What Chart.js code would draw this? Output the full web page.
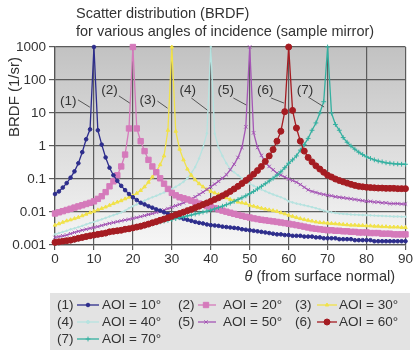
<!DOCTYPE html>
<html>
<head>
<meta charset="utf-8">
<script src="https://cdn.jsdelivr.net/npm/chart.js@4/dist/chart.umd.min.js"></script>
<style>
html,body{margin:0;padding:0;background:#fff;}
#wrap{width:414px;height:350px;position:relative;}
</style>
</head>
<body>
<div id="wrap"><canvas id="c" width="414" height="350"></canvas></div>
<script>
// ---------- data ----------
const theta = [0,1,2,3,4,5,6,7,8,9,10,11,12,13,14,15,16,17,18,19,20,21,22,23,24,25,26,27,28,29,30,31,32,33,34,35,36,37,38,39,40,41,42,43,44,45,46,47,48,49,50,51,52,53,54,55,56,57,58,59,60,61,62,63,64,65,66,67,68,69,70,71,72,73,74,75,76,77,78,79,80,81,82,83,84,85,86,87,88,89,90];

const aoi10 = [0.035,0.042,0.055,0.075,0.11,0.17,0.3,0.65,1.6,3.2,
  1000,
  3.0,1.1,0.45,0.22,0.13,0.088,0.062,0.046,0.035,
  0.028,0.023,0.019,0.017,0.015,0.0135,0.012,0.011,0.0098,0.0088,
  0.008,0.0074,0.0068,0.0062,0.0058,0.0054,0.005,0.0047,0.0045,0.0042,
  0.004,0.0039,0.0038,0.0036,0.0035,0.0034,0.0033,0.0032,0.003,0.0029,
  0.0028,0.0027,0.0026,0.0025,0.0024,0.0023,0.0022,0.0021,0.0021,0.002,
  0.002,0.0019,0.0019,0.0019,0.0018,0.0018,0.0018,0.0017,0.0017,0.0016,
  0.0016,0.0016,0.0016,0.0015,0.0015,0.0015,0.0015,0.0014,0.0014,0.0014,
  0.0014,0.0014,0.0013,0.0013,0.0013,0.0013,0.0013,0.0013,0.0013,0.0013,
  0.0013];

const aoi20 = [0.009,0.0098,0.0106,0.0115,0.0125,0.0136,0.0148,0.016,0.0175,0.019,
  0.021,0.025,0.03,0.04,0.06,0.085,0.13,0.24,0.55,3.4,
  1000,
  3.4,1.4,0.7,0.38,0.24,0.16,0.105,0.072,0.05,
  0.038,0.032,0.028,0.026,0.024,0.022,0.02,0.018,0.0165,0.015,
  0.014,0.013,0.012,0.011,0.0102,0.0095,0.0088,0.0082,0.0077,0.0072,
  0.0068,0.0064,0.0061,0.0058,0.0056,0.0054,0.0052,0.005,0.0048,0.0046,
  0.0044,0.0042,0.004,0.0038,0.0036,0.0034,0.0032,0.0031,0.003,0.0029,
  0.0028,0.0028,0.0027,0.0027,0.0026,0.0026,0.0025,0.0025,0.0024,0.0024,
  0.0024,0.0023,0.0023,0.0023,0.0022,0.0022,0.0022,0.0021,0.0021,0.0021,
  0.0021];

const aoi30 = [0.004,0.0044,0.0049,0.0054,0.0058,0.0063,0.0069,0.0077,0.0086,0.0095,
  0.0105,0.0116,0.0128,0.0142,0.016,0.018,0.02,0.022,0.025,0.028,
  0.031,0.037,0.045,0.058,0.08,0.115,0.17,0.27,0.5,3.0,
  1000,
  2.8,0.8,0.38,0.2,0.13,0.095,0.072,0.058,0.048,
  0.042,0.038,0.034,0.03,0.027,0.024,0.022,0.02,0.019,0.018,
  0.016,0.015,0.014,0.013,0.0123,0.0116,0.011,0.0104,0.0095,0.0088,
  0.008,0.0074,0.0068,0.0063,0.0059,0.0056,0.0053,0.005,0.0048,0.0047,
  0.0046,0.0045,0.0044,0.0043,0.0042,0.0041,0.004,0.004,0.0039,0.0039,
  0.0038,0.0038,0.0037,0.0037,0.0036,0.0036,0.0035,0.0035,0.0035,0.0034,
  0.0034];

const aoi40 = [0.0021,0.0023,0.0025,0.0027,0.003,0.0032,0.0035,0.0038,0.0042,0.0046,
  0.005,0.0055,0.006,0.0066,0.0073,0.008,0.0088,0.0097,0.011,0.013,
  0.015,0.017,0.019,0.022,0.025,0.028,0.031,0.035,0.039,0.044,
  0.05,0.058,0.068,0.082,0.105,0.15,0.23,0.42,0.9,2.4,
  1000,
  2.4,0.9,0.5,0.3,0.2,0.16,0.13,0.105,0.087,
  0.073,0.062,0.055,0.048,0.043,0.038,0.034,0.031,0.028,0.025,
  0.021,0.0195,0.018,0.017,0.016,0.015,0.014,0.013,0.012,0.011,
  0.0103,0.0098,0.0094,0.009,0.0088,0.0086,0.0084,0.0083,0.0082,0.0081,
  0.008,0.0079,0.0078,0.0077,0.0076,0.0075,0.0074,0.0073,0.0073,0.0072,
  0.0072];

const aoi50 = [0.0017,0.0018,0.0019,0.002,0.0022,0.0024,0.0026,0.0028,0.003,0.0032,
  0.0034,0.0036,0.0039,0.0042,0.0045,0.0048,0.0051,0.0054,0.0057,0.006,
  0.0064,0.0068,0.0073,0.0078,0.0084,0.009,0.0097,0.0105,0.0115,0.0127,
  0.014,0.0155,0.017,0.019,0.022,0.025,0.029,0.034,0.04,0.048,
  0.058,0.07,0.085,0.105,0.135,0.19,0.28,0.45,0.9,3.8,
  1000,
  2.5,0.9,0.52,0.32,0.24,0.19,0.15,0.13,0.115,
  0.1,0.09,0.08,0.068,0.056,0.047,0.042,0.039,0.036,0.034,
  0.032,0.031,0.029,0.028,0.027,0.026,0.025,0.024,0.023,0.022,
  0.021,0.021,0.02,0.02,0.019,0.019,0.018,0.018,0.018,0.0175,
  0.0175];

const aoi60 = [0.0012,0.00125,0.0013,0.00135,0.0014,0.0015,0.0016,0.0017,0.0018,0.0019,
  0.002,0.0021,0.0022,0.0023,0.0025,0.0026,0.0027,0.0028,0.003,0.0031,
  0.0033,0.0035,0.0037,0.004,0.0043,0.0047,0.0051,0.0056,0.0061,0.0067,
  0.0074,0.0082,0.009,0.0099,0.011,0.012,0.0135,0.015,0.0168,0.0188,
  0.021,0.024,0.027,0.031,0.036,0.042,0.05,0.06,0.073,0.09,
  0.11,0.14,0.18,0.24,0.34,0.5,0.78,1.4,2.8,11,
  1000,
  12,3.5,1.4,0.7,0.45,0.33,0.25,0.2,0.16,
  0.13,0.115,0.1,0.09,0.082,0.075,0.069,0.064,0.06,0.058,
  0.056,0.055,0.054,0.053,0.053,0.052,0.052,0.052,0.051,0.051,
  0.051];

const aoi70 = [0.0011,0.00115,0.0012,0.00128,0.00135,0.0014,0.0015,0.0016,0.0017,0.0018,
  0.0019,0.002,0.0021,0.0022,0.0024,0.0025,0.0026,0.0028,0.003,0.0032,
  0.0034,0.0036,0.0038,0.004,0.0042,0.0045,0.0047,0.005,0.0053,0.0056,
  0.0059,0.0063,0.0067,0.0071,0.0076,0.0081,0.0087,0.0093,0.0099,0.0106,
  0.0113,0.0124,0.0136,0.015,0.0166,0.0185,0.021,0.024,0.027,0.031,
  0.036,0.042,0.05,0.06,0.072,0.087,0.105,0.13,0.165,0.22,
  0.3,0.38,0.5,0.75,1.1,1.7,3.0,5.0,10,22,
  1000,
  10,4.5,3.0,1.8,1.3,1.0,0.8,0.65,0.55,
  0.47,0.42,0.38,0.35,0.33,0.31,0.3,0.29,0.285,0.28,
  0.28];

const seriesTags = ['(1)','(2)','(3)','(4)','(5)','(6)','(7)'];
const seriesNames = ['AOI = 10°','AOI = 20°','AOI = 30°','AOI = 40°','AOI = 50°','AOI = 60°','AOI = 70°'];
const yTicks = [0.001,0.01,0.1,1,10,100,1000];
const yTickLabels = ['0.001','0.01','0.1','1','10','100','1000'];
const xTicks = [0,10,20,30,40,50,60,70,80,90];
const titleLines = ['Scatter distribution (BRDF)','for various angles of incidence (sample mirror)'];
const yTitle = 'BRDF (1/sr)';
const xTitleSymbol = 'θ';
const xTitleRest = ' (from surface normal)';

// ---------- styles ----------
const allSeries = [aoi10,aoi20,aoi30,aoi40,aoi50,aoi60,aoi70];
const styles = [
  {color:'#2d2d8c', point:'circle', r:1.8, order:2},
  {color:'#d57abb', point:'rect', r:3.8, order:3},
  {color:'#f1e24a', point:'triangle', r:2.0, order:5},
  {color:'#b6e3e0', point:'circle', r:0.8, order:6},
  {color:'#a556b5', point:'crossRot', r:2.4, order:4},
  {color:'#a51c22', point:'circle', r:3.0, order:0},
  {color:'#34b0a0', point:'cross', r:2.4, order:1}
];
// annotation labels, in data units (theta, BRDF)
const annots = [
  {t:'(1)', tx:1.3, ty:23,  x1:5.9,  y1:25,   x2:8.95, y2:15},
  {t:'(2)', tx:11.9,ty:50,  x1:16.4, y1:33,   x2:19.2, y2:20},
  {t:'(3)', tx:21.7,ty:25,  x1:26.3, y1:23,   x2:28.9, y2:14},
  {t:'(4)', tx:32.0,ty:50,  x1:35.0, y1:28.5, x2:39.1, y2:12.3},
  {t:'(5)', tx:41.7,ty:50,  x1:45.8, y1:28.5, x2:49.1, y2:17.5},
  {t:'(6)', tx:51.9,ty:50,  x1:55.5, y1:28.5, x2:58.8, y2:20},
  {t:'(7)', tx:62.1,ty:50,  x1:65.0, y1:30.5, x2:69.1, y2:15.2}
];

const FONT = "'Liberation Sans', Arial, Helvetica, sans-serif";
const TXT = '#333333';

const datasets = allSeries.map((vals, i) => ({
  label: seriesNames[i],
  data: theta.map((t, k) => ({x: t, y: vals[k]})),
  borderColor: styles[i].color,
  backgroundColor: styles[i].color,
  pointBackgroundColor: styles[i].color,
  pointBorderColor: styles[i].color,
  pointStyle: styles[i].point,
  pointRadius: styles[i].r,
  pointBorderWidth: 1,
  borderWidth: 1.3,
  tension: 0,
  order: styles[i].order,
  clip: false
}));

const decor = {
  id: 'decor',
  beforeDraw(chart) {
    const ctx = chart.ctx, a = chart.chartArea;
    ctx.save();
    ctx.fillStyle = '#ffffff';
    ctx.fillRect(0, 0, chart.width, chart.height);
    const g = ctx.createLinearGradient(0, a.top, 0, a.bottom);
    g.addColorStop(0, '#c2c2c2');
    g.addColorStop(0.5, '#dcdcdc');
    g.addColorStop(1, '#f6f6f6');
    ctx.fillStyle = g;
    ctx.fillRect(a.left, a.top, a.right - a.left, a.bottom - a.top);
    ctx.restore();
  },
  afterDraw(chart) {
    const ctx = chart.ctx, a = chart.chartArea;
    const xs = chart.scales.x, ys = chart.scales.y;
    ctx.save();
    ctx.fillStyle = TXT;
    ctx.textBaseline = 'middle';
    // title
    ctx.font = '14.5px ' + FONT;
    ctx.textAlign = 'left';
    ctx.fillText(titleLines[0], 76, 14);
    ctx.fillText(titleLines[1], 76, 32);
    // y title
    ctx.save();
    ctx.translate(15, 97);
    ctx.rotate(-Math.PI / 2);
    ctx.textAlign = 'center';
    ctx.font = '15px ' + FONT;
    ctx.fillText(yTitle, 0, 0);
    ctx.restore();
    // x title
    ctx.font = '14.5px ' + FONT;
    const wRest = ctx.measureText(xTitleRest).width;
    ctx.textAlign = 'right';
    ctx.fillText(xTitleRest, 395, 277);
    ctx.font = 'italic 14.5px ' + FONT;
    ctx.fillText(xTitleSymbol, 395 - wRest, 277);
    // annotations
    ctx.font = '13.5px ' + FONT;
    ctx.textAlign = 'left';
    ctx.strokeStyle = '#555';
    ctx.lineWidth = 1;
    annots.forEach(an => {
      ctx.fillStyle = TXT;
      ctx.fillText(an.t, xs.getPixelForValue(an.tx), ys.getPixelForValue(an.ty));
      ctx.beginPath();
      ctx.moveTo(xs.getPixelForValue(an.x1), ys.getPixelForValue(an.y1));
      ctx.lineTo(xs.getPixelForValue(an.x2), ys.getPixelForValue(an.y2));
      ctx.stroke();
    });
    // legend
    ctx.fillStyle = '#e3e3e3';
    ctx.fillRect(50, 293, 360, 57);
    const cols = [
      {tag:57, l1:77, l2:99, m:88, txt:102},
      {tag:178, l1:198, l2:216, m:206, txt:223},
      {tag:295, l1:317, l2:337, m:327, txt:339}
    ];
    const rows = [305, 322, 339];
    seriesNames.forEach((nm, i) => {
      const c = cols[i % 3], y = rows[Math.floor(i / 3)];
      ctx.fillStyle = TXT;
      ctx.font = '13.5px ' + FONT;
      ctx.textAlign = 'left';
      ctx.fillText(seriesTags[i], c.tag, y);
      ctx.fillText(nm, c.txt, y);
      ctx.strokeStyle = styles[i].color;
      ctx.lineWidth = 1.3;
      ctx.beginPath();
      ctx.moveTo(c.l1, y); ctx.lineTo(c.l2, y); ctx.stroke();
      ctx.fillStyle = styles[i].color;
      ctx.lineWidth = 1;
      Chart.helpers.drawPoint(ctx, {pointStyle: styles[i].point, rotation: 0, radius: Math.max(styles[i].r, 1.5), borderWidth: 1}, c.m, y);
    });
    ctx.restore();
  }
};

new Chart(document.getElementById('c'), {
  type: 'line',
  data: { datasets },
  options: {
    responsive: false,
    devicePixelRatio: 1,
    animation: false,
    layout: { padding: { left: 0, right: 8, top: 47, bottom: 85 } },
    plugins: { legend: { display: false }, tooltip: { enabled: false }, title: { display: false } },
    scales: {
      x: {
        type: 'linear', min: 0, max: 90,
        afterBuildTicks: s => { s.ticks = xTicks.map(v => ({value: v})); },
        afterFit: s => { s.height = 20; },
        ticks: { font: { family: FONT, size: 13.5 }, color: TXT, padding: 1, maxRotation: 0, autoSkip: false },
        grid: { color: '#5c5c5c', lineWidth: 1.2, tickLength: 5 },
        border: { color: '#555', width: 1.2 }
      },
      y: {
        type: 'logarithmic', min: 0.001, max: 1000,
        afterBuildTicks: s => { s.ticks = yTicks.map(v => ({value: v})); },
        afterFit: s => { s.width = 55; },
        ticks: {
          font: { family: FONT, size: 13.5 }, color: TXT, padding: 3, autoSkip: false,
          callback: v => { const k = yTicks.indexOf(v); return k >= 0 ? yTickLabels[k] : ''; }
        },
        grid: { color: '#5c5c5c', lineWidth: 1.2, tickLength: 6 },
        border: { color: '#555', width: 1.2 }
      }
    }
  },
  plugins: [decor]
});
</script>
</body>
</html>
